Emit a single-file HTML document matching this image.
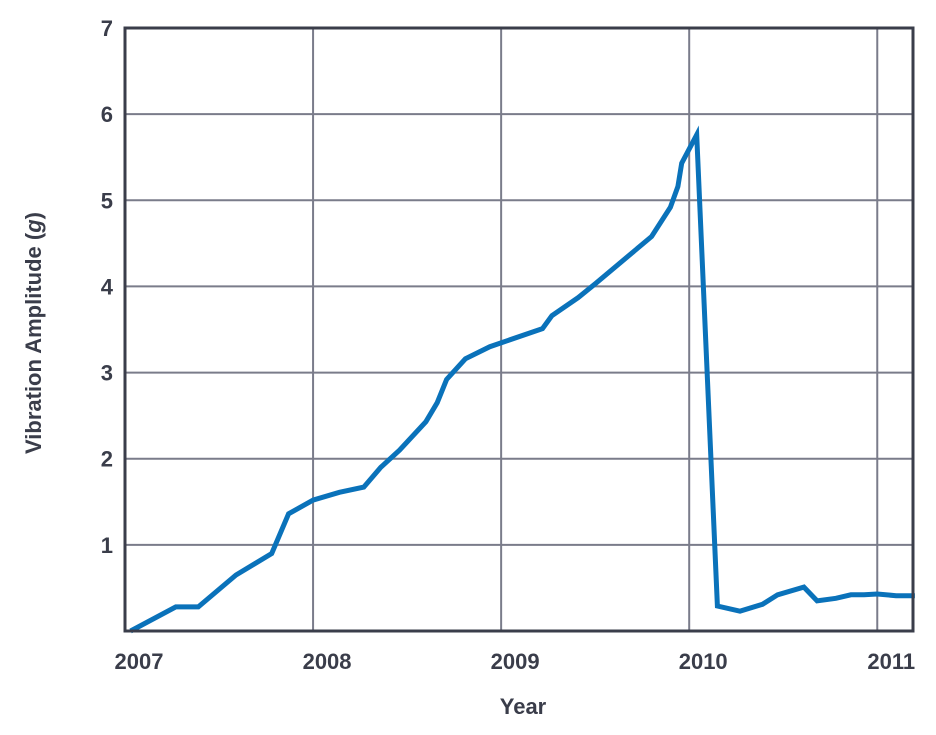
<!DOCTYPE html>
<html><head><meta charset="utf-8"><style>
html,body{margin:0;padding:0;background:#fff;}
svg{display:block;font-family:"Liberation Sans",sans-serif;font-weight:bold;fill:#3a3d4a;}
</style></head><body>
<svg id="chart" width="936" height="735" viewBox="0 0 936 735" xmlns="http://www.w3.org/2000/svg">
<g id="grid"></g>
<g id="ticks"></g>
<path id="series" fill="none" stroke="#0a72ba" stroke-width="5" stroke-linejoin="miter" stroke-miterlimit="10"></path>
<rect x="125" y="28" width="788" height="603" fill="none" stroke="#3a3d4a" stroke-width="3"/>
<text transform="translate(41,333) rotate(-90)" text-anchor="middle" font-size="22" fill="#3a3d4a">Vibration Amplitude (<tspan font-style="italic">g</tspan>)</text>
<text x="523" y="714" text-anchor="middle" font-size="22" fill="#3a3d4a">Year</text>
</svg>
<script>
const years = [2007.03,2007.27,2007.39,2007.59,2007.78,2007.87,2008.0,2008.14,2008.27,2008.36,2008.46,2008.6,2008.66,2008.71,2008.81,2008.94,2009.22,2009.27,2009.41,2009.5,2009.8,2009.9,2009.94,2009.96,2010.04,2010.15,2010.27,2010.39,2010.47,2010.61,2010.68,2010.78,2010.86,2010.93,2011.0,2011.1,2011.2];
const amplitude = [0,0.28,0.28,0.65,0.9,1.36,1.52,1.61,1.67,1.9,2.1,2.43,2.65,2.92,3.16,3.3,3.51,3.66,3.87,4.03,4.58,4.92,5.16,5.43,5.76,0.29,0.23,0.31,0.42,0.51,0.35,0.38,0.42,0.42,0.43,0.41,0.41];
const xTicks = [2007,2008,2009,2010,2011];
const yTicks = [1,2,3,4,5,6,7];
const X0=125,X1=913,Y0=631,Y1=28,XMIN=2007,XMAX=2011.19,YMIN=0,YMAX=7;
function sx(v){return X0+(v-XMIN)/(XMAX-XMIN)*(X1-X0);}
function sy(v){return Y0-(v-YMIN)/(YMAX-YMIN)*(Y0-Y1);}
const NS="http://www.w3.org/2000/svg";
const grid=document.getElementById('grid'), ticks=document.getElementById('ticks');
xTicks.forEach(t=>{
  const x=sx(t);
  if(t>XMIN){
    const l=document.createElementNS(NS,'line');
    
    
    l.setAttribute('x1',x);l.setAttribute('x2',x);l.setAttribute('y1',Y1);l.setAttribute('y2',Y0);
    l.setAttribute('stroke','#7a7c8a');l.setAttribute('stroke-width','2');
    grid.appendChild(l);
  }
  const tx=document.createElementNS(NS,'text');
  
  
  tx.setAttribute('x',x+14);tx.setAttribute('y',669);tx.setAttribute('text-anchor','middle');tx.setAttribute('font-size','22');
  tx.textContent=t;ticks.appendChild(tx);
});
yTicks.forEach(t=>{
  const y=sy(t);
  const l=document.createElementNS(NS,'line');
  
  
  l.setAttribute('x1',X0);l.setAttribute('x2',X1);l.setAttribute('y1',y);l.setAttribute('y2',y);
  l.setAttribute('stroke','#7a7c8a');l.setAttribute('stroke-width','2');
  grid.appendChild(l);
  const tx=document.createElementNS(NS,'text');
  
  
  tx.setAttribute('x',113);tx.setAttribute('y',y+8);tx.setAttribute('text-anchor','end');tx.setAttribute('font-size','22');
  tx.textContent=t;ticks.appendChild(tx);
});
document.getElementById('series').setAttribute('d',years.map((v,i)=>(i?'L':'M')+sx(v).toFixed(1)+' '+sy(amplitude[i]).toFixed(1)).join(' '));
</script>
</body></html>
